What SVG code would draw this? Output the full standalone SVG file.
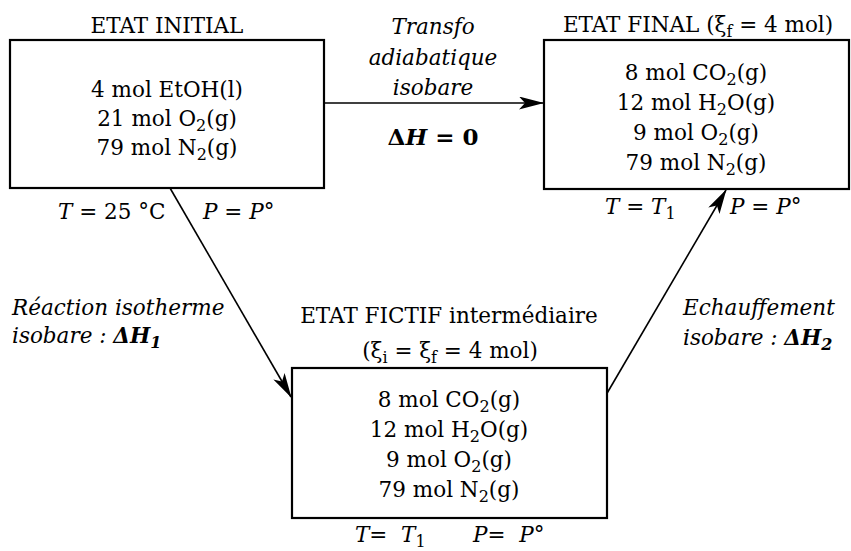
<svg xmlns="http://www.w3.org/2000/svg" width="851" height="551" viewBox="0 0 851 551">
<defs>
<style>
text{font-family:"DejaVu Serif","Liberation Serif",serif;font-size:21.5px;fill:#000}
.c{text-anchor:middle}
.i{font-style:italic}
.b{font-weight:bold}
.big{font-size:23px}
.box{fill:#fff;stroke:#000;stroke-width:2.2}
.con{stroke:#000;stroke-width:1.6;fill:none;marker-end:url(#ah)}
.s{font-size:16px}
</style>
<marker id="ah" viewBox="0 0 25 13" refX="24" refY="6.5" markerWidth="25" markerHeight="13" markerUnits="userSpaceOnUse" orient="auto">
<path d="M0,0 L25,6.5 L0,13 L6,6.5 Z" fill="#000"/>
</marker>
</defs>
<rect width="851" height="551" fill="#fff"/>
<g id="connectors">
<line class="con" x1="324" y1="103" x2="543" y2="103"/>
<line class="con" x1="170" y1="188" x2="291" y2="397"/>
<line class="con" x1="606" y1="395" x2="726" y2="190"/>
</g>
<g id="etat-initial">
<text class="c" x="167" y="33">ETAT INITIAL</text>
<rect class="box" x="10" y="40" width="314" height="148"/>
<text class="c" x="167" y="97">4 mol EtOH(l)</text>
<text class="c" x="167" y="126">21 mol O<tspan class="s" dy="5">2</tspan><tspan dy="-5">(g)</tspan></text>
<text class="c" x="167" y="155">79 mol N<tspan class="s" dy="5">2</tspan><tspan dy="-5">(g)</tspan></text>
<text x="58" y="219"><tspan class="i">T</tspan> = 25 °C</text>
<text x="203" y="219"><tspan class="i">P</tspan> = <tspan class="i">P</tspan>°</text>
</g>
<g id="etat-final">
<text class="c" x="698" y="32">ETAT FINAL (ξ<tspan class="s" dy="5">f</tspan><tspan dy="-5"> = 4 mol)</tspan></text>
<rect class="box" x="544" y="40" width="305" height="149"/>
<text class="c" x="696" y="80">8 mol CO<tspan class="s" dy="5">2</tspan><tspan dy="-5">(g)</tspan></text>
<text class="c" x="696" y="110">12 mol H<tspan class="s" dy="5">2</tspan><tspan dy="-5">O(g)</tspan></text>
<text class="c" x="696" y="140">9 mol O<tspan class="s" dy="5">2</tspan><tspan dy="-5">(g)</tspan></text>
<text class="c" x="696" y="170">79 mol N<tspan class="s" dy="5">2</tspan><tspan dy="-5">(g)</tspan></text>
<text x="605" y="214"><tspan class="i">T</tspan> = <tspan class="i">T</tspan><tspan class="s" dy="5">1</tspan></text>
<text x="730" y="214"><tspan class="i">P</tspan> = <tspan class="i">P</tspan>°</text>
</g>
<g id="etat-fictif">
<text class="c" x="449" y="323">ETAT FICTIF intermédiaire</text>
<text class="c" x="450" y="358">(ξ<tspan class="s" dy="5">i</tspan><tspan dy="-5"> = ξ</tspan><tspan class="s" dy="5">f</tspan><tspan dy="-5"> = 4 mol)</tspan></text>
<rect class="box" x="292" y="368" width="315" height="150"/>
<text class="c" x="449" y="407">8 mol CO<tspan class="s" dy="5">2</tspan><tspan dy="-5">(g)</tspan></text>
<text class="c" x="449" y="437">12 mol H<tspan class="s" dy="5">2</tspan><tspan dy="-5">O(g)</tspan></text>
<text class="c" x="449" y="467">9 mol O<tspan class="s" dy="5">2</tspan><tspan dy="-5">(g)</tspan></text>
<text class="c" x="449" y="497">79 mol N<tspan class="s" dy="5">2</tspan><tspan dy="-5">(g)</tspan></text>
<text x="355" y="542"><tspan class="i">T</tspan>=&#160; <tspan class="i">T</tspan><tspan class="s" dy="5">1</tspan></text>
<text x="473" y="542"><tspan class="i">P</tspan>=&#160; <tspan class="i">P</tspan>°</text>
</g>
<g id="label-adiabatique">
<text class="c i" x="433" y="34">Transfo</text>
<text class="c i" x="433" y="65">adiabatique</text>
<text class="c i" x="433" y="95">isobare</text>
<text class="c b big" x="433" y="145">Δ<tspan class="i">H</tspan> = 0</text>
</g>
<g id="label-reaction">
<text class="i" x="12" y="315">Réaction isotherme</text>
<text class="i" x="12" y="343">isobare : <tspan class="b">ΔH</tspan><tspan class="b s" dy="5">1</tspan></text>
</g>
<g id="label-echauffement">
<text class="i" x="683" y="315">Echauffement</text>
<text class="i" x="683" y="345">isobare : <tspan class="b">ΔH</tspan><tspan class="b s" dy="5">2</tspan></text>
</g>
</svg>
